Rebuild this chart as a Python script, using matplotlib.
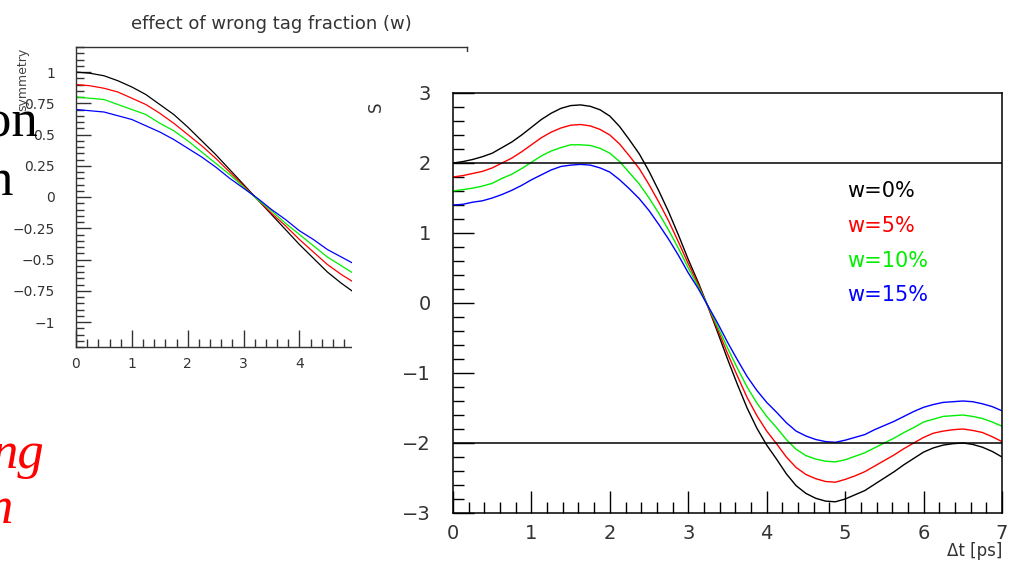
import matplotlib
matplotlib.use("Agg")
import matplotlib.pyplot as plt
from matplotlib.ticker import MultipleLocator
from matplotlib.patches import Rectangle

# ---- data ----
# left panel: asymmetry vs t, one curve per wrong tag fraction
t_left = [0.0, 0.25, 0.5, 0.75, 1.0, 1.25, 1.5, 1.75, 2.0, 2.25, 2.5,
          2.75, 3.0, 3.25, 3.5, 3.75, 4.0, 4.25, 4.5, 4.75, 5.0]
asym_w0 = [1.00, 0.99, 0.97, 0.93, 0.88, 0.82, 0.74, 0.66, 0.56, 0.45, 0.34,
           0.22, 0.10, -0.02, -0.14, -0.26, -0.38, -0.49, -0.60, -0.69, -0.77]
asym_w5 = [0.90, 0.89, 0.87, 0.84, 0.79, 0.74, 0.67, 0.59, 0.50, 0.41, 0.31,
           0.20, 0.09, -0.02, -0.13, -0.23, -0.34, -0.44, -0.54, -0.62, -0.69]
asym_w10 = [0.80, 0.79, 0.78, 0.74, 0.70, 0.66, 0.59, 0.53, 0.45, 0.36, 0.27,
            0.18, 0.08, -0.02, -0.11, -0.21, -0.30, -0.39, -0.48, -0.55, -0.62]
asym_w15 = [0.70, 0.69, 0.68, 0.65, 0.62, 0.57, 0.52, 0.46, 0.39, 0.32, 0.24,
            0.15, 0.07, -0.01, -0.10, -0.18, -0.27, -0.34, -0.42, -0.48, -0.54]
left_ticklabels = ["0", "1", "2", "3", "4", "", "", ""]

# right panel: S vs delta t (step 0.125 ps)
dt = [0.0, 0.125, 0.25, 0.375, 0.5, 0.625, 0.75, 0.875,
      1.0, 1.125, 1.25, 1.375, 1.5, 1.625, 1.75, 1.875,
      2.0, 2.125, 2.25, 2.375, 2.5, 2.625, 2.75, 2.875,
      3.0, 3.125, 3.25, 3.375, 3.5, 3.625, 3.75, 3.875,
      4.0, 4.125, 4.25, 4.375, 4.5, 4.625, 4.75, 4.875,
      5.0, 5.125, 5.25, 5.375, 5.5, 5.625, 5.75, 5.875,
      6.0, 6.125, 6.25, 6.375, 6.5, 6.625, 6.75, 6.875, 7.0]
s_w0 = [2.00, 2.02, 2.05, 2.09, 2.14, 2.22, 2.30, 2.40,
        2.51, 2.62, 2.71, 2.78, 2.82, 2.83, 2.81, 2.76,
        2.67, 2.52, 2.33, 2.13, 1.88, 1.60, 1.30, 0.97,
        0.62, 0.30, -0.05, -0.42, -0.80, -1.16, -1.50, -1.79,
        -2.03, -2.23, -2.44, -2.61, -2.72, -2.79, -2.83, -2.84,
        -2.80, -2.74, -2.68, -2.59, -2.50, -2.41, -2.31, -2.22,
        -2.13, -2.07, -2.03, -2.01, -2.00, -2.02, -2.06, -2.12, -2.20]
s_w5 = [1.80, 1.82, 1.85, 1.88, 1.93, 2.00, 2.07, 2.16,
        2.26, 2.36, 2.44, 2.50, 2.54, 2.55, 2.53, 2.48,
        2.40, 2.27, 2.10, 1.92, 1.69, 1.44, 1.17, 0.87,
        0.56, 0.27, -0.05, -0.38, -0.72, -1.04, -1.35, -1.61,
        -1.83, -2.01, -2.20, -2.35, -2.45, -2.51, -2.55, -2.56,
        -2.52, -2.47, -2.41, -2.33, -2.25, -2.17, -2.08, -2.00,
        -1.92, -1.86, -1.83, -1.81, -1.80, -1.82, -1.85, -1.91, -1.98]
s_w10 = [1.60, 1.62, 1.64, 1.67, 1.71, 1.78, 1.84, 1.92,
         2.01, 2.10, 2.17, 2.22, 2.26, 2.26, 2.25, 2.21,
         2.14, 2.02, 1.86, 1.70, 1.50, 1.28, 1.04, 0.78,
         0.50, 0.24, -0.04, -0.34, -0.64, -0.93, -1.20, -1.43,
         -1.62, -1.78, -1.95, -2.09, -2.18, -2.23, -2.26, -2.27,
         -2.24, -2.19, -2.14, -2.07, -2.00, -1.93, -1.85, -1.78,
         -1.70, -1.66, -1.62, -1.61, -1.60, -1.62, -1.65, -1.70, -1.76]
s_w15 = [1.40, 1.41, 1.44, 1.46, 1.50, 1.55, 1.61, 1.68,
         1.76, 1.83, 1.90, 1.95, 1.97, 1.98, 1.97, 1.93,
         1.87, 1.76, 1.63, 1.49, 1.32, 1.12, 0.91, 0.68,
         0.43, 0.21, -0.04, -0.29, -0.56, -0.81, -1.05, -1.25,
         -1.42, -1.56, -1.71, -1.83, -1.90, -1.95, -1.98, -1.99,
         -1.96, -1.92, -1.88, -1.81, -1.75, -1.69, -1.62, -1.55,
         -1.49, -1.45, -1.42, -1.41, -1.40, -1.41, -1.44, -1.48, -1.54]
s_limits = [-2, 2]

labels = ["w=0%", "w=5%", "w=10%", "w=15%"]
colors = ["black", "#ff0000", "#00ee00", "#0000ff"]

W, H = 1014, 561
fig = plt.figure(figsize=(W / 100, H / 100), dpi=100)
fig.patch.set_facecolor("white")


def box(x0, y0, x1, y1):
    # pixel box -> figure fraction rect
    return [x0 / W, 1 - y1 / H, (x1 - x0) / W, (y1 - y0) / H]


grey = "#333333"

# ---- left panel (partly covered by the right one) ----
ax1 = fig.add_axes(box(76, 47, 467, 347), zorder=0)
for a, c in zip([asym_w0, asym_w5, asym_w10, asym_w15], colors):
    ax1.plot(t_left, a, color=c, lw=0.9)
ax1.set_xlim(0, 7)
ax1.set_ylim(-1.2, 1.2)
ax1.set_xticks(range(8))
ax1.set_xticklabels(left_ticklabels)
ax1.xaxis.set_minor_locator(MultipleLocator(0.2))
ax1.yaxis.set_minor_locator(MultipleLocator(0.05))
ax1.set_yticks([1, 0.75, 0.5, 0.25, 0, -0.25, -0.5, -0.75, -1])
ax1.set_yticklabels(["1", "0.75", "0.5", "0.25", "0", "\u22120.25", "\u22120.5",
                     "\u22120.75", "\u22121"])
ax1.tick_params(axis="y", which="major", direction="in", length=11, width=1,
                pad=15, labelsize=10, labelcolor=grey, color=grey)
ax1.tick_params(axis="y", which="minor", direction="in", length=6, width=1, color=grey)
ax1.tick_params(axis="x", which="major", direction="in", length=12, width=1,
                pad=7, labelsize=10, labelcolor=grey, color=grey)
ax1.tick_params(axis="x", which="minor", direction="in", length=6, width=1, color=grey)
for sp in ax1.spines.values():
    sp.set_color(grey)
    sp.set_linewidth(1)
ax1.set_title("effect of wrong tag fraction (w)", fontsize=13, color=grey, pad=13)
fig.text(23 / W, 1 - 48 / H, "symmetry", rotation=90, ha="center", va="top",
         fontsize=9, color="#444444")

# white sheet of the pasted right picture
fig.add_artist(Rectangle((352 / W, 0), 1 - 352 / W, 1 - 52 / H,
                         transform=fig.transFigure, facecolor="white",
                         edgecolor="none", zorder=1))

# ---- right panel ----
ax2 = fig.add_axes(box(453, 93, 1002, 513), zorder=2)
ax2.set_facecolor("white")
for s, c in zip([s_w0, s_w5, s_w10, s_w15], colors):
    ax2.plot(dt, s, color=c, lw=1.0)
for lim in s_limits:
    ax2.axhline(lim, color="black", lw=1.1)
ax2.set_xlim(0, 7)
ax2.set_ylim(-3, 3)
ax2.xaxis.set_major_locator(MultipleLocator(1))
ax2.xaxis.set_minor_locator(MultipleLocator(0.2))
ax2.yaxis.set_minor_locator(MultipleLocator(0.2))
ax2.set_yticks([-3, -2, -1, 0, 1, 2, 3])
ax2.set_yticklabels(["\u22123", "\u22122", "\u22121", "0", "1", "2", "3"])
ax2.tick_params(axis="y", which="major", direction="in", length=15, width=1,
                pad=16, labelsize=14, labelcolor=grey, color="black")
ax2.tick_params(axis="y", which="minor", direction="in", length=8, width=1)
ax2.tick_params(axis="x", which="major", direction="in", length=16, width=1,
                pad=8, labelsize=14, labelcolor=grey, color="black")
ax2.tick_params(axis="x", which="minor", direction="in", length=8, width=1)
for sp in ax2.spines.values():
    sp.set_color("black")
    sp.set_linewidth(1.1)
ax2.set_xlabel("\u0394t [ps]", loc="right", fontsize=12, color=grey)
ax2.xaxis.set_label_coords(1.0, -0.068)
ax2.text(-0.14, 0.967, "S", transform=ax2.transAxes, rotation=90,
         ha="center", va="center", fontsize=12, color=grey)

for i, (lab, c) in enumerate(zip(labels, colors)):
    ax2.text(0.718, 0.767 - i * 0.083, lab, transform=ax2.transAxes,
             ha="left", va="center", fontsize=15, color=c)

# ---- cut-off slide text on the left edge ----
serif = "Liberation Serif"
fig.text(38 / W, 1 - 137 / H, "on", ha="right", va="baseline",
         fontsize=38, family=serif, color="black", zorder=4)
fig.text(13 / W, 1 - 195 / H, "n", ha="right", va="baseline",
         fontsize=38, family=serif, color="black", zorder=4)
fig.text(44 / W, 1 - 468 / H, "ng", ha="right", va="baseline",
         fontsize=38, family=serif, style="italic", color="#ff0000", zorder=4)
fig.text(13 / W, 1 - 523 / H, "n", ha="right", va="baseline",
         fontsize=38, family=serif, style="italic", color="#ff0000", zorder=4)

fig.savefig("out.png", dpi=100, facecolor="white")
